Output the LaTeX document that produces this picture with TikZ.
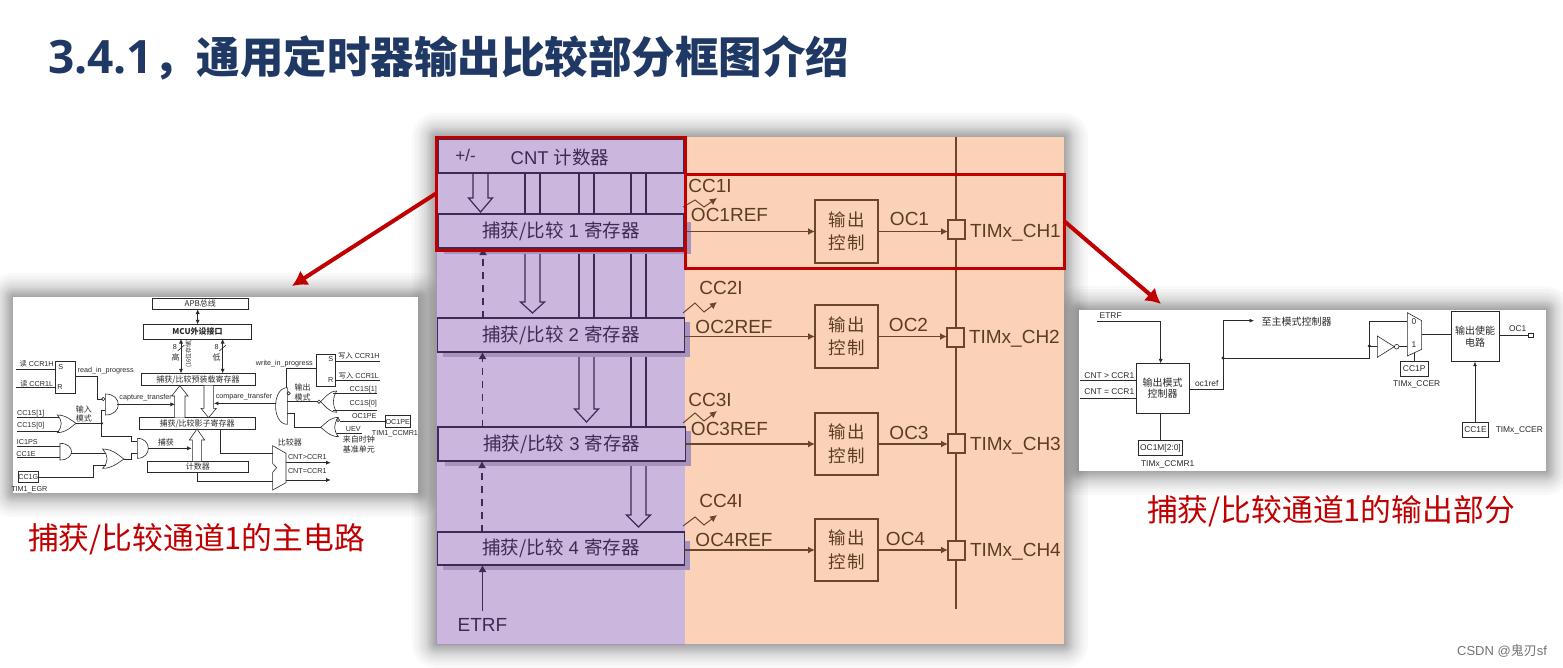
\documentclass[tikz,border=0pt]{standalone}
\usepackage{fontspec}
\setmainfont{Liberation Sans}
\newfontfamily\cj{Noto Sans CJK SC}
\newfontfamily\opn{Open Sans}
\usetikzlibrary{arrows.meta,calc}
\newcommand\zh[1]{{\cj #1}}
\newcommand\fs[1]{\fontsize{#1}{#1}\selectfont}
\definecolor{pur}{HTML}{CBB6DE}
\definecolor{purd}{HTML}{A893BC}
\definecolor{org}{HTML}{FBD2B8}
\definecolor{ln}{HTML}{3F2A56}
\definecolor{br}{HTML}{6B4729}
\definecolor{brt}{HTML}{5C3D22}
\definecolor{rd}{HTML}{C00000}
\definecolor{ttl}{HTML}{1F3864}
\definecolor{sm}{HTML}{2A2A2A}
\newcounter{lb}
\newcommand\lab[3][]{\stepcounter{lb}\node[inner sep=0pt,outer sep=0pt,#1] (lb\arabic{lb}) at (#2) {#3};}
\def\cs{1}
\newcommand\bxn[7][]{%
 \pgfmathsetmacro\bw{(#5-#3)*\cs}\pgfmathsetmacro\bh{(#6-#4)*\cs}%
 \node[#1,minimum width=\bw pt,minimum height=\bh pt,inner sep=0pt,outer sep=0pt] (#2) at ({(#3+#5)/2},{(#4+#6)/2}) {#7};}
\newcommand\softshadow[4]{%
 \foreach \r in {1,2,3,4,5,6,7,8,9,10,12,14,16,18,21,24}{\pgfmathsetmacro\sx{#1-\r}\pgfmathsetmacro\sy{#2-\r}\pgfmathsetmacro\ex{#3+\r}\pgfmathsetmacro\ey{#4+\r}%
 \fill[black,opacity=.024,rounded corners=\r pt] (\sx,\sy) rectangle (\ex,\ey);}}
% hollow bus arrow: x1 x2 ybase ywing ytip wing
\newcommand\busarrow[7][]{%
 \pgfmathsetmacro\mx{(#2+#3)/2}\pgfmathsetmacro\la{#2-#7}\pgfmathsetmacro\ra{#3+#7}%
 \draw[#1] (#2,#4) -- (#2,#5) -- (\la,#5) -- (\mx,#6) -- (\ra,#5) -- (#3,#5) -- (#3,#4);}
% OR shape: x ytop ybot xtip ymid
\newcommand\orshape[5]{%
 \pgfmathsetmacro\da{#1+.5*(#4-#1)}\pgfmathsetmacro\db{#1+.8*(#4-#1)}\pgfmathsetmacro\dc{#1+.28*(#4-#1)}%
 \pgfmathsetmacro\ua{#5-.25*(#5-#2)}\pgfmathsetmacro\ub{#5+.25*(#3-#5)}%
 \draw[wire,fill=white] (#1,#2) .. controls (\da,#2) and (\db,\ua) .. (#4,#5) .. controls (\db,\ub) and (\da,#3) .. (#1,#3) .. controls (\dc,\ub) and (\dc,\ua) .. (#1,#2) -- cycle;}
% AND shape: x ytop ybot ctrlx
\newcommand\andshape[4]{\draw[wire,fill=white] (#1,#2) .. controls (#4,#2) and (#4,#3) .. (#1,#3) -- cycle;}
\tikzset{
 wire/.style={line width=.6pt,draw=sm},
 warr/.style={wire,-{Latex[length=4.5pt,width=4pt]}},
 wdbl/.style={wire,{Latex[length=4.5pt,width=4pt]}-{Latex[length=4.5pt,width=4pt]}},
 sbox/.style={draw=sm,line width=.6pt,fill=white,text=sm},
 stxt/.style={font=\fs{7.2},text=sm},
 szh/.style={font=\cj\fs{8},text=sm},
 rtxt/.style={font=\fs{8.4},text=sm},
 rzh/.style={font=\cj\fs{10},text=sm},
 regbox/.style={draw=ln,line width=1.2pt,fill=pur,text=ln,font=\fs{18.5}},
 regshade/.style={fill=purd,draw=none},
 bus/.style={draw=ln,line width=1.2pt},
 ctlbox/.style={draw=br,line width=1.2pt,fill=org,text=brt,font=\cj\fs{17.5},align=center},
 ptxt/.style={text=ln,font=\fs{19}},
 otxt/.style={text=brt,font=\fs{19}},
 brline/.style={draw=br,line width=1.4pt},
 brarr/.style={brline,-{Latex[length=7pt,width=7pt]}},
 purarr/.style={draw=ln,line width=1.2pt,-{Latex[length=7pt,width=8pt]}},
 dasharr/.style={purarr,dash pattern=on 7pt off 6pt},
 pad/.style={draw=br,line width=1.2pt,fill=org},
 redrect/.style={draw=rd,line width=3pt},
 redarr/.style={draw=rd,line width=4pt,-{Latex[length=15pt,width=17pt]}},
 redtxt/.style={text=rd,font=\cj\fs{30.8}},
}
\begin{document}
\begin{tikzpicture}[x=1pt,y=-1pt]
\useasboundingbox (0,0) rectangle (1563,667);
\fill[white] (0,0) rectangle (1563,667);
% title
\lab[anchor=west,text=ttl]{48,58}{{\opn\bfseries\fs{46}3.4.1}{\cj\bfseries\fs{43.5}，通用定时器输出比较部分框图介绍}}
% image shadows first
\softshadow{13}{297}{418}{493}
\softshadow{1079}{310}{1546}{471}
% ---------- centre panel ----------
\softshadow{436}{137}{1064}{644}
\fill[pur] (436,137) rectangle (685,644);
\fill[org] (685,137) rectangle (1064,644);
\draw[draw=purd,line width=.8pt] (436,644) -- (436,137);
\draw[draw=purd,line width=.8pt] (436,644) -- (685,644);
\bxn[draw=none]{cnt0}{438}{139}{684}{173}{}
\bxn[draw=none]{reg1}{438}{214}{684}{248}{}
\bxn[draw=none]{reg2}{437.5}{318}{684.5}{352}{}
\bxn[draw=none]{reg3}{438}{427}{685.5}{461}{}
\bxn[draw=none]{reg4}{437.5}{532}{684.5}{565}{}
% bus lines
\foreach \bx in {525,540,579,594,631,646}{\draw[bus] (\bx,0 |- cnt0.south) -- (\bx,0 |- reg1.north);}
\foreach \bx in {579,594,631,646}{\draw[bus] (\bx,0 |- reg1.south) -- (\bx,0 |- reg2.north);}
\foreach \bx in {631,646}{\draw[bus] (\bx,0 |- reg2.south) -- (\bx,0 |- reg3.north);}
\busarrow[bus]{473}{488}{173}{198}{212}{4.5}
\busarrow[bus,fill=pur]{525}{540}{250}{302}{313}{4.5}
\busarrow[bus,fill=pur]{579}{594}{352}{409}{422}{4.5}
\busarrow[bus,fill=pur]{631}{646}{461}{515}{527}{4.5}
% register shadows
\fill[regshade] (444,252) rectangle (691,254);
\fill[regshade] (443,352) rectangle (690,357);
\fill[regshade] (685,322) rectangle (690,357);
\fill[regshade] (445,461) rectangle (691,466);
\fill[regshade] (685,431) rectangle (691,466);
\fill[regshade] (443,565) rectangle (690,570);
\fill[regshade] (685,541) rectangle (690,570);
\fill[regshade] (685,222) rectangle (691,254);
\bxn[regbox]{cnt}{438}{139}{684}{173}{}
\bxn[regbox]{r1}{438}{214}{684}{248}{\zh{捕获/比较} 1 \zh{寄存器}}
\bxn[regbox]{r2}{437.5}{318}{684.5}{352}{\zh{捕获/比较} 2 \zh{寄存器}}
\bxn[regbox]{r3}{438}{427}{685.5}{461}{\zh{捕获/比较} 3 \zh{寄存器}}
\bxn[regbox]{r4}{437.5}{532}{684.5}{565}{\zh{捕获/比较} 4 \zh{寄存器}}
\lab[text=ln,font=\fs{17}]{465.5,155}{+/-}
\lab[text=ln,font=\fs{18.5}]{560,157}{CNT \zh{计数器}}
% dashed / ETRF
\draw[dasharr] (483,0 |- r2.north) -- (483,0 |- r1.south);
\draw[dasharr] (482.5,0 |- r3.north) -- (482.5,0 |- r2.south);
\draw[dasharr] (482,0 |- r4.north) -- (482,0 |- r3.south);
\lab[ptxt]{482.5,625}{ETRF}
\draw[purarr] (lb\arabic{lb}.north) ++(0,-7) -- (482.5,0 |- r4.south);
% vertical line
\coordinate (vtop) at (956,137);
\coordinate (vbot) at (956,609);
\draw[brline] (vtop) -- (vbot);
% output rows
\bxn[ctlbox]{c1}{815}{200}{878}{263}{输\hspace{1pt}出\\[6pt]控\hspace{1pt}制}
\bxn[ctlbox]{c2}{815}{305}{878}{368}{输\hspace{1pt}出\\[6pt]控\hspace{1pt}制}
\bxn[ctlbox]{c3}{815}{413}{878}{475}{输\hspace{1pt}出\\[6pt]控\hspace{1pt}制}
\bxn[ctlbox]{c4}{815}{519}{878}{581}{输\hspace{1pt}出\\[6pt]控\hspace{1pt}制}
\bxn[pad]{p1}{948}{220}{965}{239}{}
\bxn[pad]{p2}{947}{328}{964}{347}{}
\bxn[pad]{p3}{948}{434}{965}{453}{}
\bxn[pad]{p4}{948}{541}{965}{560}{}
\foreach \n in {1,2,3,4}{
 \draw[brarr] (r\n.east |- c\n.west) -- (c\n.west);
 \draw[brarr] (c\n.east) -- (p\n.west |- c\n.east);
}
\lab[otxt]{710,186}{CC1I}
\lab[otxt]{721,288}{CC2I}
\lab[otxt]{710,400}{CC3I}
\lab[otxt]{721,501}{CC4I}
\lab[otxt]{729.5,215}{OC1REF}
\lab[otxt]{734,327}{OC2REF}
\lab[otxt]{729.5,429}{OC3REF}
\lab[otxt]{734,540}{OC4REF}
\lab[otxt]{909.5,219}{OC1}
\lab[otxt]{908.5,325}{OC2}
\lab[otxt]{909,433}{OC3}
\lab[otxt]{905.5,539}{OC4}
\lab[otxt,anchor=west]{970,232.5}{TIMx\_CH1}
\lab[otxt,anchor=west]{969,338.5}{TIMx\_CH2}
\lab[otxt,anchor=west]{970,445.5}{TIMx\_CH3}
\lab[otxt,anchor=west]{970,551.5}{TIMx\_CH4}
\draw[brarr,line width=1pt] (683,207) -- (695,200) -- (704,207) -- (717,198);
\draw[brarr,line width=1pt] (683,313) -- (695,303) -- (704,312) -- (717,302);
\draw[brarr,line width=1pt] (683,423) -- (695,413) -- (704,421) -- (717,411);
\draw[brarr,line width=1pt] (683,526) -- (695,517) -- (704,525) -- (717,515);
% red frames
\bxn[redrect]{redL}{436}{137}{685}{250}{}
\bxn[redrect]{redR}{685}{174}{1064}{268}{}
% ---------- left image ----------
\bxn[fill=white]{imgL}{13}{297}{418}{493}{}
\begin{scope}[shift={(0,290)},x=.33333pt,y=-.33333pt]
\def\cs{.33333}
\bxn[sbox,szh]{apb}{457}{25}{745}{58}{APB总线}
\bxn[sbox,font=\cj\bfseries\fs{8},text=sm]{mcu}{430}{103}{755}{147}{MCU外设接口}
\bxn[sbox,szh]{pre}{423}{250}{765}{287}{捕获/比较预装载寄存器}
\bxn[sbox,szh]{shd}{418}{383}{765}{417}{捕获/比较影子寄存器}
\bxn[sbox,szh]{ctr}{442}{513}{745}{548}{计数器}
\draw[wdbl] (593,0 |- apb.south) -- (593,0 |- mcu.north);
\draw[wdbl] (543,0 |- mcu.south) -- (543,0 |- pre.north);
\draw[wdbl] (668,0 |- mcu.south) -- (668,0 |- pre.north);
\draw[wire] (533,183) -- (553,165);
\draw[wire] (658,183) -- (678,165);
\lab[stxt]{525,172}{8}
\lab[szh]{527,203}{高}
\lab[stxt]{650,172}{8}
\lab[szh]{650,203}{低}
\lab[font=\cj\fs{6},text=sm,rotate=90]{566,190}{(16位存储)}
\busarrow[wire,fill=white]{524}{555}{383}{318}{287}{9}
\busarrow[wire,fill=white]{612}{640}{287}{355}{383}{9}
\busarrow[wire,fill=white]{577}{605}{513}{450}{417}{9}
% read latch
\bxn[sbox,stxt]{rsr}{167}{213}{225}{310}{}
\lab[stxt]{182,230}{S}
\lab[stxt]{180,292}{R}
\coordinate (rs) at (48,237); \coordinate (rr) at (48,293);
\draw[wire] (rs) -- (rs -| rsr.west);
\draw[wire] (rr) -- (rr -| rsr.west);
\lab[stxt]{110,222}{\zh{读} CCR1H}
\lab[stxt]{110,280}{\zh{读} CCR1L}
\lab[stxt]{317,241}{read\_in\_progress}
% AND capture
\andshape{316}{312}{375}{368}
\coordinate (a1i) at (305,327); \coordinate (a1j) at (316,362); \coordinate (a1o) at (352,343);
\coordinate (jn) at (305,400);
\draw[wire] (225,260) -- (292,260) -- (292,327) -- (a1i);
\draw[wire,fill=white] (a1i) ++(5,0) circle (5);
\draw[wire] (a1j) -- (305,362) -- (jn);
\coordinate (capt) at (525,343);
\draw[warr] (a1o) -- (capt);
\lab[stxt]{437,323}{capture\_transfer}
% OR CC1S
\orshape{172}{375}{428}{228}{400}
\draw[wire] (52,382) -- (178,382);
\draw[wire] (52,425) -- (178,425);
\lab[stxt]{92,370}{CC1S[1]}
\lab[stxt]{92,408}{CC1S[0]}
\draw[wire] (228,400) -- (jn);
\fill[sm] (jn) circle (4.5);
\lab[szh]{252,358}{输入}
\lab[szh]{252,385}{模式}
% AND capture2
\andshape{412}{445}{505}{456}
\draw[wire] (jn) -- (305,438) -- (395,438) -- (395,455) -- (412,455);
\coordinate (cap) at (575,475);
\draw[warr] (445,475) -- (cap);
\lab[szh]{498,458}{捕获}
% AND IC1PS
\andshape{180}{460}{510}{226}
\draw[wire] (52,468) -- (180,468);
\draw[wire] (52,503) -- (180,503);
\lab[stxt]{82,457}{IC1PS}
\lab[stxt]{78,492}{CC1E}
\draw[wire] (213,490) -- (318,490);
% OR 2
\orshape{308}{477}{535}{372}{507}
\draw[wire] (372,507) -- (395,507) -- (395,490) -- (412,490);
\bxn[sbox,stxt]{cg}{55}{543}{115}{578}{CC1G}
\lab[stxt]{88,598}{TIM1\_EGR}
\draw[wire] (cg.east) -- (280,560.5) -- (280,525) -- (318,525);
% right side
\bxn[sbox,stxt]{wsr}{948}{193}{1007}{290}{}
\lab[stxt]{992,207}{S}
\lab[stxt]{992,270}{R}
\draw[wire] (1007,213) -- (1140,213);
\draw[wire] (1007,272) -- (1140,272);
\lab[stxt]{1077,198}{\zh{写入} CCR1H}
\lab[stxt]{1077,258}{\zh{写入} CCR1L}
\lab[stxt]{853,220}{write\_in\_progress}
\draw[wire] (wsr.west |- 0,235) -- (860,235) -- (860,295);
\andshape{862}{293}{403}{815}
\draw[wire,fill=white] (866,310) circle (5);
\coordinate (cmpt) at (642,340);
\draw[warr] (828,340) -- (cmpt);
\lab[stxt]{732,320}{compare\_transfer}
\lab[szh]{908,293}{输出}
\lab[szh]{908,322}{模式}
\orshape{1010}{303}{367}{962}{335}
\draw[wire,fill=white] (957,335) circle (5);
\draw[wire] (862,335) -- (952,335);
\draw[wire] (1000,310) -- (1130,310);
\draw[wire] (1000,360) -- (1130,360);
\lab[stxt]{1090,300}{CC1S[1]}
\lab[stxt]{1090,342}{CC1S[0]}
\orshape{1015}{382}{440}{962}{412}
\draw[wire] (882,370) -- (882,412) -- (962,412);
\draw[wire] (862,370) -- (882,370);
\draw[wire,fill=white] (1014,390) circle (5);
\bxn[sbox,stxt]{ope}{1157}{377}{1230}{413}{OC1PE}
\draw[wire] (1019,393) -- (ope.west |- 0,393);
\draw[wire] (1010,430) -- (1085,430);
\lab[stxt]{1093,378}{OC1PE}
\lab[stxt]{1060,417}{UEV}
\lab[szh]{1077,447}{来自时钟}
\lab[szh]{1077,477}{基准单元}
\lab[stxt]{1185,432}{TIM1\_CCMR1}
% comparator
\draw[wire,fill=white] (818,467) -- (858,490) -- (858,578) -- (818,600) -- (818,547) -- (830,533) -- (818,520) -- cycle;
\lab[szh]{870,458}{比较器}
\draw[wire] (660,0 |- shd.south) -- (660,490) -- (818,490);
\draw[wire] (592,0 |- ctr.south) -- (592,573) -- (818,573);
\draw[warr] (858,518) -- (992,518);
\draw[warr] (858,570) -- (992,570);
\lab[stxt]{922,502}{CNT>CCR1}
\lab[stxt]{922,543}{CNT=CCR1}
\end{scope}
% ---------- right image ----------
\bxn[fill=white]{imgR}{1079}{310}{1546}{471}{}
\begin{scope}[shift={(1070,300)},x=.33333pt,y=-.33333pt]
\def\cs{.33333}
\bxn[sbox,rzh,align=center]{omc}{198}{190}{357}{340}{输出模式\\[1.5pt]控制器}
\bxn[sbox,rtxt]{ocm}{205}{420}{338}{467}{OC1M[2:0]}
\bxn[sbox,rzh,align=center]{oen}{1143}{35}{1288}{185}{输出使能\\[1.5pt]电路}
\bxn[sbox,rtxt]{ccp}{990}{183}{1075}{230}{CC1P}
\bxn[sbox,rtxt]{cce}{1178}{367}{1255}{413}{CC1E}
\bxn[sbox]{opad}{1375}{99}{1389}{112}{}
\lab[rtxt]{122,48}{ETRF}
\draw[warr] (80,65) -- (272,65) -- (272,0 |- omc.north);
\lab[rtxt]{118,226}{CNT > CCR1}
\lab[rtxt]{118,276}{CNT = CCR1}
\draw[wire] (30,242) -- (omc.west |- 0,242);
\draw[wire] (30,294) -- (omc.west |- 0,294);
\draw[wire] (272,0 |- omc.south) -- (272,0 |- ocm.north);
\lab[rtxt]{293,492}{TIMx\_CCMR1}
\lab[rtxt]{410,251}{oc1ref}
\coordinate (j1) at (459,174);
\coordinate (j2) at (898,138);
\coordinate (tomm) at (552,62);
\draw[wire] (omc.east |- 0,268) -- (459,268) -- (j1);
\draw[warr] (j1) -- (459,62) -- (tomm);
\lab[rzh]{680,65}{至主模式控制器}
\draw[wire] (j1) -- (898,174) -- (j2) -- (898,65) -- (1012,65);
\fill[sm] (j1) circle (5);
\fill[sm] (j2) circle (5);
\draw[wire] (j2) -- (922,138);
\draw[wire,fill=white] (922,108) -- (973,140) -- (922,172) -- cycle;
\draw[wire,fill=white] (980,140) circle (7);
\draw[wire] (987,140) -- (1012,140);
\draw[wire,fill=white] (1012,38) -- (1055,62) -- (1055,148) -- (1012,168) -- cycle;
\lab[rtxt]{1032,65}{0}
\lab[rtxt]{1032,135}{1}
\draw[wire] (1055,104) -- (oen.west |- 0,104);
\draw[wire] (1032,158) -- (1032,0 |- ccp.north);
\lab[rtxt]{1040,254}{TIMx\_CCER}
\lab[rtxt]{1343,85}{OC1}
\draw[wire] (oen.east |- opad.west) -- (opad.west);
\draw[warr] (1215,0 |- cce.north) -- (1215,0 |- oen.south);
\lab[rtxt]{1348,391}{TIMx\_CCER}
\end{scope}
% red arrows
\coordinate (tipL) at (292,286);
\coordinate (tipR) at (1161,304);
\draw[redarr] (redL.west) -- (tipL);
\draw[redarr] (redR.east) -- (tipR);
% red captions
\lab[redtxt,anchor=west]{28,539.5}{捕获/比较通道1的主电路}
\lab[redtxt,anchor=west]{1147,511.5}{捕获/比较通道1的输出部分}
\lab[text=black!55,font=\fs{13}]{1502,651}{CSDN @\zh{鬼刃}sf}
\end{tikzpicture}
\end{document}
